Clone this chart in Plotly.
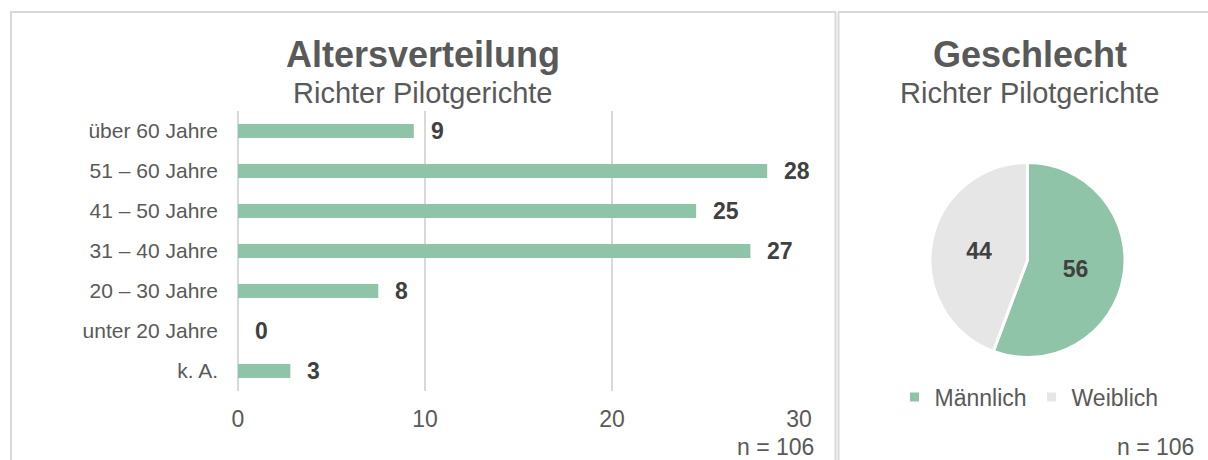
import plotly.graph_objects as go

W, H = 1208, 460

# ---- data ----
age_categories = ["über 60 Jahre", "51 – 60 Jahre", "41 – 50 Jahre", "31 – 40 Jahre",
                  "20 – 30 Jahre", "unter 20 Jahre", "k. A."]
age_values = [9.4, 28.3, 24.5, 27.4, 7.5, 0, 2.8]
x_ticks = [0, 10, 20, 30]

gender_labels = ["Männlich", "Weiblich"]
gender_values = [55.7, 44.3]

n_text = "n = 106"
title_left = "Altersverteilung"
title_right = "Geschlecht"
subtitle = "Richter Pilotgerichte"

# ---- style ----
GREEN = "#8fc4a8"
LIGHT = "#e6e6e6"
TXT = "#595959"
DARK = "#404040"
BORDER = "#d9d9d9"
FONT = "Liberation Sans, Arial, sans-serif"


def px(x):
    return x / W


def py(y):
    return 1 - y / H


fig = go.Figure()

fig.add_trace(go.Bar(
    x=age_values, y=age_categories, orientation="h",
    marker=dict(color=GREEN, line=dict(width=0)),
    width=0.35, showlegend=False, hoverinfo="x+y",
    xaxis="x", yaxis="y",
))

fig.add_trace(go.Pie(
    labels=gender_labels, values=gender_values,
    marker=dict(colors=[GREEN, LIGHT], line=dict(color="white", width=3)),
    sort=False, direction="clockwise", rotation=0,
    texttemplate="%{value:.0f}", textposition="inside",
    insidetextorientation="horizontal",
    textfont=dict(family=FONT, size=23, color=DARK, weight="bold"),
    domain=dict(x=[px(930), px(1125)], y=[py(358), py(162)]),
    showlegend=True,
))

annotations = []
for cat, v in zip(age_categories, age_values):
    annotations.append(dict(
        x=v, y=cat, xref="x", yref="y", text=str(int(v + 0.5)),
        xanchor="left", yanchor="middle", xshift=15, showarrow=False,
        font=dict(family=FONT, size=23, color=DARK, weight="bold"),
    ))

for cx, t in [(423, title_left), (1030, title_right)]:
    annotations.append(dict(x=px(cx), y=py(55), xref="paper", yref="paper", text=t,
                            showarrow=False, xanchor="center", yanchor="middle",
                            font=dict(family=FONT, size=36, color=TXT, weight="bold")))
    annotations.append(dict(x=px(cx), y=py(93), xref="paper", yref="paper", text=subtitle,
                            showarrow=False, xanchor="center", yanchor="middle",
                            font=dict(family=FONT, size=29, color=TXT)))

for rx in [816, 1196]:
    annotations.append(dict(x=px(rx), y=py(447), xref="paper", yref="paper", text=n_text,
                            showarrow=False, xanchor="right", yanchor="middle",
                            font=dict(family=FONT, size=23, color=TXT)))

shapes = []
line = dict(color=BORDER, width=2)
# left panel
shapes.append(dict(type="line", xref="paper", yref="paper", x0=px(10), x1=px(836), y0=py(12), y1=py(12), line=line))
shapes.append(dict(type="line", xref="paper", yref="paper", x0=px(11), x1=px(11), y0=py(12), y1=0, line=line))
shapes.append(dict(type="line", xref="paper", yref="paper", x0=px(835.5), x1=px(835.5), y0=py(12), y1=0, line=line))
# right panel
shapes.append(dict(type="line", xref="paper", yref="paper", x0=px(838), x1=1, y0=py(12), y1=py(12), line=line))
shapes.append(dict(type="line", xref="paper", yref="paper", x0=px(838.5), x1=px(838.5), y0=py(12), y1=0, line=line))

fig.update_layout(
    width=W, height=H, autosize=False,
    margin=dict(l=0, r=0, t=0, b=0, pad=0, autoexpand=False),
    paper_bgcolor="white", plot_bgcolor="white",
    font=dict(family=FONT, color=TXT),
    xaxis=dict(domain=[px(238), px(799)], range=[0, 30], tickvals=x_ticks,
               showgrid=True, gridcolor=BORDER, gridwidth=1.5,
               zeroline=True, zerolinecolor=BORDER, zerolinewidth=1.5,
               showline=False, ticks="", ticklabelstandoff=12, automargin=False,
               tickfont=dict(family=FONT, size=23, color=TXT), fixedrange=True),
    yaxis=dict(domain=[py(391), py(111)], categoryorder="array",
               categoryarray=age_categories, autorange="reversed",
               showgrid=False, zeroline=False, showline=False, ticks="",
               ticklabelstandoff=19, automargin=False,
               tickfont=dict(family=FONT, size=21, color=TXT), fixedrange=True),
    legend=dict(orientation="h", x=px(1029), y=py(397), xanchor="center", yanchor="middle",
                font=dict(family=FONT, size=23, color=TXT), bgcolor="rgba(0,0,0,0)",
                itemclick=False, itemdoubleclick=False),
    annotations=annotations,
    shapes=shapes,
    bargap=0.65,
)

fig.write_html(
    "out.html",
    config={"displayModeBar": False, "responsive": False},
    post_script="document.body.style.margin='0';document.body.style.padding='0';"
                "document.body.style.overflow='hidden';"
                "document.documentElement.style.overflow='hidden';",
)
